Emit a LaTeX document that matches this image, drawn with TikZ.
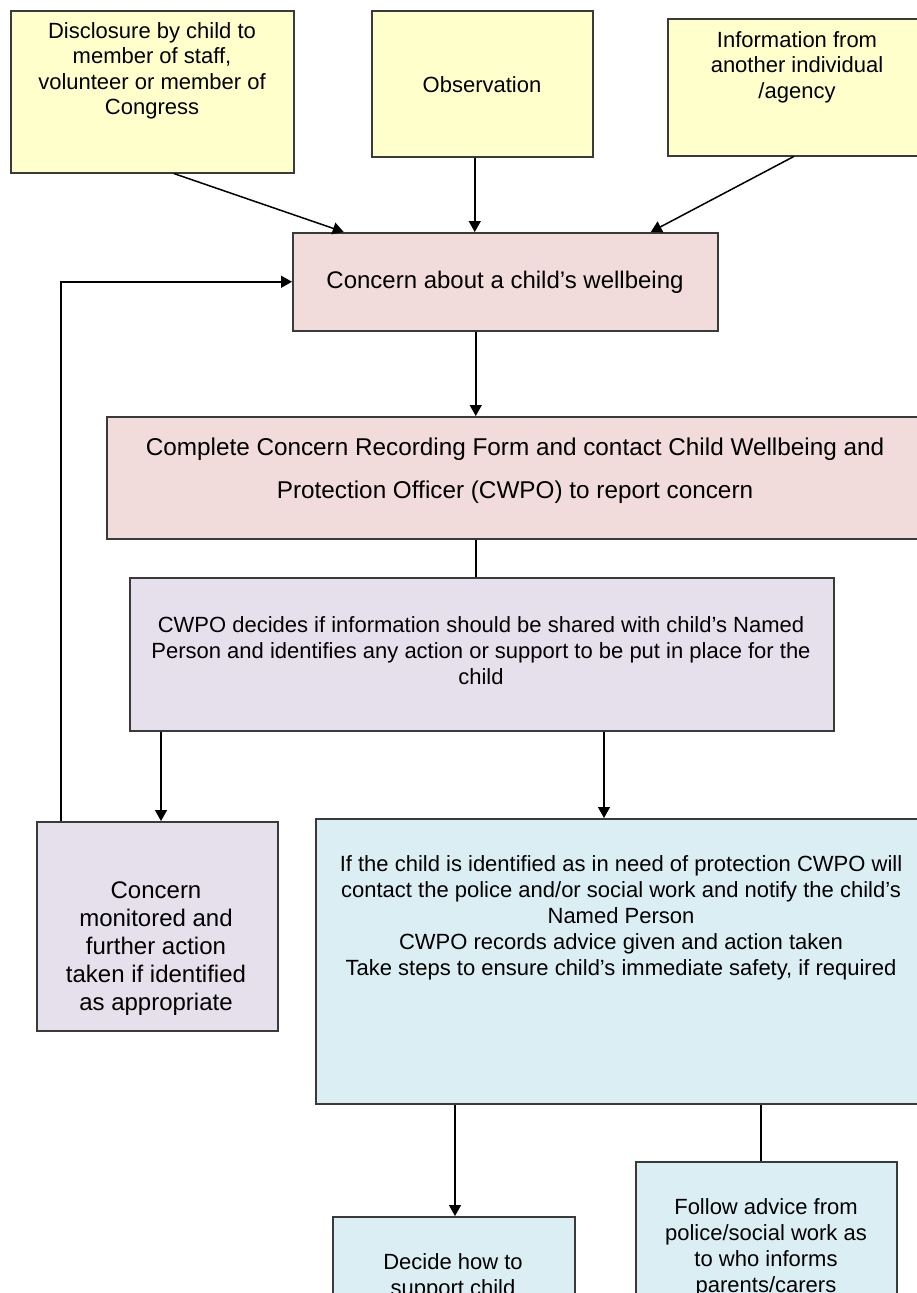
\documentclass[tikz,border=0pt]{standalone}
\usepackage{fontspec}
\setmainfont{Liberation Sans}
\usetikzlibrary{arrows.meta}
\definecolor{yel}{HTML}{FFFFCC}
\definecolor{pnk}{HTML}{F2DCDB}
\definecolor{lav}{HTML}{E5E0EC}
\definecolor{blu}{HTML}{DBEEF4}
\definecolor{edge}{HTML}{3A3A3A}
\tikzset{
  boxnode/.style={draw=edge, line width=1.5bp, inner sep=0pt, anchor=north west},
  txt/.style={align=center, inner sep=0pt, text=black},
  fa/.style={font=\fontsize{22bp}{25.5bp}\selectfont},
  fb/.style={font=\fontsize{24bp}{28bp}\selectfont},
  fc/.style={font=\fontsize{24.3bp}{43bp}\selectfont},
  fd/.style={font=\fontsize{22bp}{26bp}\selectfont},
  arr/.style={draw=black, line width=1.5bp, -{Triangle[length=11bp,width=12bp]}},
  plain/.style={draw=black, line width=1.5bp}
}
\begin{document}
\begin{tikzpicture}[x=1bp,y=-1bp]
\useasboundingbox (0,0) rectangle (917,1293);
\clip (0,0) rectangle (917,1293);
\fill[white] (0,0) rectangle (917,1293);
% boxes
\node[boxnode, fill=yel, minimum width=283bp, minimum height=162bp] (disc) at (10,10) {};
\node[boxnode, fill=yel, minimum width=221bp, minimum height=146bp] (obs) at (371,10) {};
\node[boxnode, fill=yel, minimum width=260bp, minimum height=137bp] (info) at (667,18) {};
\node[boxnode, fill=pnk, minimum width=425bp, minimum height=98bp] (concern) at (292,232) {};
\node[boxnode, fill=pnk, minimum width=818bp, minimum height=122bp] (complete) at (106,416) {};
\node[boxnode, fill=lav, minimum width=704bp, minimum height=153bp] (cwpo) at (129,577) {};
\node[boxnode, fill=lav, minimum width=241bp, minimum height=209bp] (monitor) at (36,821) {};
\node[boxnode, fill=blu, minimum width=612bp, minimum height=285bp] (protect) at (315,818) {};
\node[boxnode, fill=blu, minimum width=242bp, minimum height=120bp] (decide) at (332,1216) {};
\node[boxnode, fill=blu, minimum width=261bp, minimum height=170bp] (follow) at (635,1161) {};
% texts
\node[txt, fa] (tdisc) at (152,71) {Disclosure by child to\\member of staff,\\volunteer or member of\\Congress};
\node[txt, fa] (tobs) at (482,85) {Observation};
\node[txt, fa] (tinfo) at (797,67) {Information from\\another individual\\/agency};
\node[txt, fb] (tconcern) at (505,282) {Concern about a child’s wellbeing};
\node[txt, fc] (tcomplete) at (515,471) {Complete Concern Recording Form and contact Child Wellbeing and\\Protection Officer (CWPO) to report concern};
\node[txt, fd] (tcwpo) at (481,651) {CWPO decides if information should be shared with child’s Named\\Person and identifies any action or support to be put in place for the\\child};
\node[txt, fb] (tmonitor) at (156,949) {Concern\\monitored and\\further action\\taken if identified\\as appropriate};
\node[txt, fd] (tprotect) at (621,918) {If the child is identified as in need of protection CWPO will\\contact the police and/or social work and notify the child’s\\Named Person\\CWPO records advice given and action taken\\Take steps to ensure child’s immediate safety, if required};
\node[txt, fd, anchor=north] (tdecide) at (453,1253) {Decide how to\\support child};
\node[txt, fd, anchor=north] (tfollow) at (766,1198) {Follow advice from\\police/social work as\\to who informs\\parents/carers};
% connectors
\draw[arr] ([xshift=21.5bp]disc.south) -- ([xshift=-161.5bp]concern.north);
\draw[arr] ([xshift=-7.5bp]obs.south) -- ([xshift=-7.5bp]obs.south |- concern.north);
\draw[arr] ([xshift=-4bp]info.south) -- ([xshift=145.5bp]concern.north);
\draw[arr] ([xshift=-29.5bp]concern.south) -- ([xshift=-29.5bp]concern.south |- complete.north);
\draw[plain] ([xshift=-29.5bp]concern.south |- complete.south) -- ([xshift=-29.5bp]concern.south |- cwpo.north);
\draw[arr] ([xshift=32bp]cwpo.south west) -- ([xshift=32bp]cwpo.south west |- monitor.north);
\draw[arr] ([xshift=475bp]cwpo.south west) -- ([xshift=475bp]cwpo.south west |- protect.north);
\draw[arr] ([xshift=25bp]monitor.north west) |- (concern.west);
\draw[arr] ([xshift=140bp]protect.south west) -- ([xshift=140bp]protect.south west |- decide.north);
\draw[plain] ([xshift=446bp]protect.south west) -- ([xshift=446bp]protect.south west |- follow.north);
\end{tikzpicture}
\end{document}
